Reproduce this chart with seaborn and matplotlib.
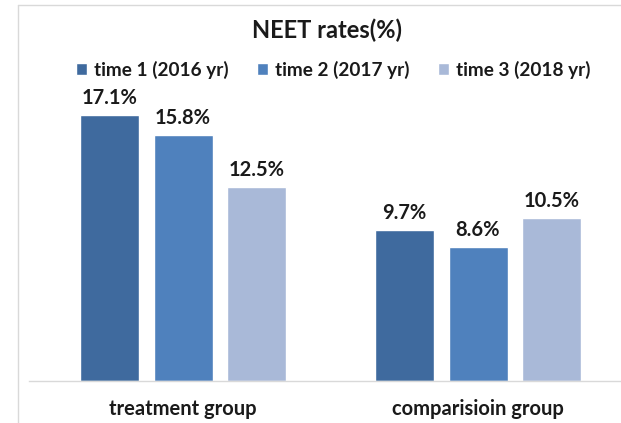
import matplotlib
matplotlib.use("Agg")
import matplotlib.pyplot as plt
from matplotlib.lines import Line2D
import seaborn as sns
import pandas as pd

groups = ["treatment group", "comparisioin group"]
periods = ["time 1 (2016 yr)", "time 2 (2017 yr)", "time 3 (2018 yr)"]
rates_time1 = [17.1, 9.7]
rates_time2 = [15.8, 8.6]
rates_time3 = [12.5, 10.5]
colors = ["#3F6A9E", "#4F81BD", "#A9B9D8"]

df = pd.DataFrame({
    "group": groups * 3,
    "period": [periods[0]] * 2 + [periods[1]] * 2 + [periods[2]] * 2,
    "rate": rates_time1 + rates_time2 + rates_time3,
})

sns.set_theme(style="white")
plt.rcParams["font.family"] = ["Lato", "DejaVu Sans"]

W, H = 621, 423
fig = plt.figure(figsize=(W / 100, H / 100), dpi=100)
ax = fig.add_axes([29 / W, (H - 381) / H, (W - 29) / W, 311 / H])

sns.barplot(data=df, x="group", y="rate", hue="period", order=groups,
            hue_order=periods, palette=colors, width=0.75, gap=0.2,
            saturation=1, ax=ax, legend=True)

ax.set_xlim(-(183 - 29) / 295, (W - 183) / 295)
ax.set_ylim(0, 20)
ax.set_xlabel("")
ax.set_ylabel("")
ax.set_yticks([])
ax.tick_params(axis="x", length=0, pad=13)
for lbl in ax.get_xticklabels():
    lbl.set_fontweight("bold")
    lbl.set_fontsize(14.5)
    lbl.set_color("#1a1a1a")
for s in ["top", "right", "left"]:
    ax.spines[s].set_visible(False)
ax.spines["bottom"].set_color("#D9D9D9")
ax.spines["bottom"].set_linewidth(1)

for cont in ax.containers:
    ax.bar_label(cont, fmt="%.1f%%", padding=5, fontsize=14.5,
                 fontweight="bold", color="#1a1a1a")

handles, labels = ax.get_legend_handles_labels()
ax.legend_.remove()
fig.legend(handles, labels, loc="center", bbox_to_anchor=(333 / W, 1 - 70 / H),
           ncol=3, frameon=False, handlelength=0.6, handleheight=0.6,
           handletextpad=0.35, columnspacing=1.5,
           prop={"weight": "bold", "size": 13.7})
for t in fig.legends[0].get_texts():
    t.set_color("#1a1a1a")

fig.text(327 / W, 1 - 30 / H, "NEET rates(%)", ha="center", va="center",
         fontsize=17, fontweight="bold", color="#1a1a1a")

# light outer frame
fig.add_artist(Line2D([18 / W, 18 / W], [0, 1 - 5 / H], color="#D9D9D9", lw=1,
                      transform=fig.transFigure))
fig.add_artist(Line2D([18 / W, 1], [1 - 5 / H, 1 - 5 / H], color="#D9D9D9", lw=1,
                      transform=fig.transFigure))

fig.savefig("out.png", dpi=100)
